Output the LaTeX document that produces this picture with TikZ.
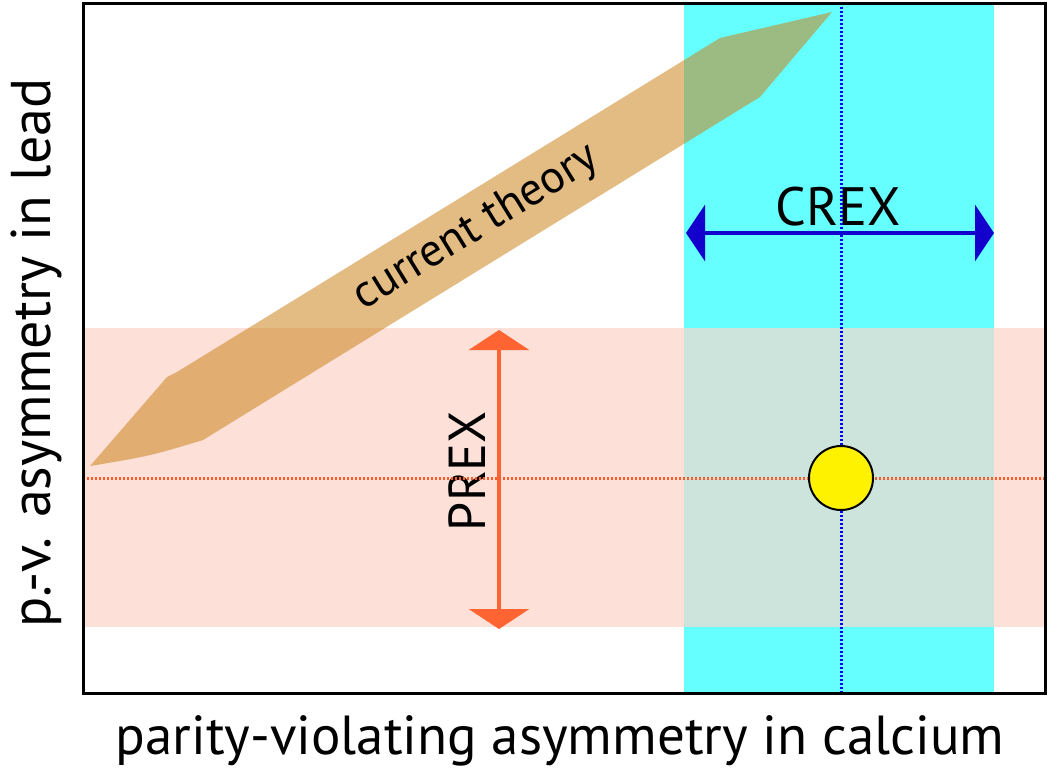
\documentclass[tikz,border=0pt]{standalone}
\usepackage{fontspec}
\setmainfont{PT Sans}
\usepackage{tikz}
\usetikzlibrary{arrows.meta}
\definecolor{cyanband}{RGB}{102,255,255}
\definecolor{pinkband}{RGB}{253,224,216}
\definecolor{mixband}{RGB}{204,228,220}
\definecolor{theory}{RGB}{203,128,22}
\definecolor{crexblue}{RGB}{20,0,204}
\definecolor{prexred}{RGB}{255,100,50}
\definecolor{dotblue}{RGB}{0,0,255}
\definecolor{dotred}{RGB}{255,90,40}

\begin{document}
\begin{tikzpicture}[x=1pt,y=-1pt,
    lbl/.style={inner sep=0pt,font=\fontsize{55}{60}\selectfont},
    dotline/.style={line width=3pt,dash pattern=on 2.2pt off 1.8pt}]
    \useasboundingbox (0,0) rectangle (1057,772);
    % bands
    \fill[cyanband] (684,3) rectangle (994,693);
    \fill[pinkband] (83,328) rectangle (1045,627);
    \fill[mixband] (684,328) rectangle (994,627);
    % theory
    \fill[theory,opacity=0.53] (90,466) -- (167,377) -- (177,372) -- (720,38)
        -- (832,12) -- (760,97) -- (203,440) .. controls (150,456) .. (90,466) -- cycle;
    \node[lbl,rotate=31.6,font=\fontsize{46}{50}\selectfont] (theorylbl) at (476,228) {current theory};
    % CREX and PREX
    \coordinate (crexL) at (686,233);
    \coordinate (crexR) at (994,233);
    \coordinate (prexT) at (499,330);
    \coordinate (prexB) at (499,629);
    \draw[crexblue,line width=4pt,{Triangle[length=19pt,width=56pt]}-{Triangle[length=19pt,width=56pt]}] (crexL) -- (crexR);
    \draw[prexred,line width=4pt,{Triangle[length=20pt,width=60pt]}-{Triangle[length=20pt,width=60pt]}] (prexT) -- (prexB);
    \node[lbl,anchor=base,font=\fontsize{54}{60}\selectfont] (crexlbl) at (838,225) {CREX};
    \node[lbl,anchor=base,rotate=90,font=\fontsize{52}{60}\selectfont] (prexlbl) at (485,471) {PREX};
    % measured point
    \coordinate (vtop) at (841,3);
    \coordinate (vbot) at (841,693);
    \coordinate (hleft) at (83,478);
    \coordinate (hright) at (1045,478);
    \draw[dotline,dotblue] (vtop) -- (vbot);
    \draw[dotline,dotred] (hleft) -- (hright);
    \node[circle,draw=black,line width=2pt,fill=yellow,minimum size=64pt,inner sep=0pt] (point) at (841,478) {};
    % frame and axis labels
    \draw[line width=3pt] (83,3) rectangle (1045,693);
    \node[lbl,anchor=base] (xlbl) at (560,754) {parity-violating asymmetry in calcium};
    \node[lbl,anchor=base,rotate=90,font=\fontsize{56}{60}\selectfont] (ylbl) at (50,353) {p.-v. asymmetry in lead};
\end{tikzpicture}
\end{document}
